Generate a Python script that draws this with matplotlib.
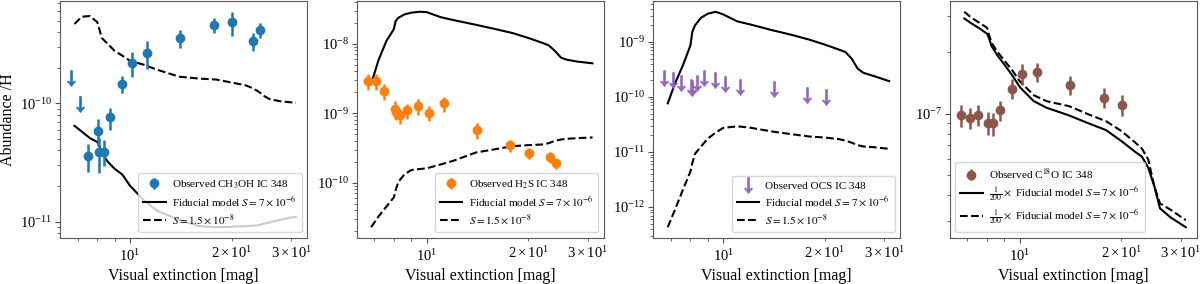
import matplotlib.pyplot as plt
import numpy as np

plt.rcParams['font.family'] = ['Liberation Serif', 'DejaVu Serif']
plt.rcParams['mathtext.fontset'] = 'stix'

# observed positions (visual extinction) shared by all species
av_obs = np.array([6.7, 7.1, 7.5, 8.05, 8.1, 8.35, 8.75, 9.45, 10.15, 11.25,
                   14.1, 17.7, 20.1, 23.2, 24.2])
# model grid
av_model = np.array([6.85, 7.2, 7.6, 8.0, 8.1, 8.25, 8.6, 9.0, 9.5, 10, 11, 12,
                     14, 16, 18, 20, 22, 23, 24, 25, 26, 28, 31])

# CH3OH
ch3oh_lim_idx = [0, 1]
ch3oh_lim = [1.64e-10, 0.98e-10]
ch3oh_idx = list(range(2, 15))
ch3oh = [3.57e-11, 5.86e-11, 3.86e-11, 3.91e-11, 7.59e-11, 1.46e-10, 2.19e-10,
         2.66e-10, 3.57e-10, 4.57e-10, 4.84e-10, 3.36e-10, 4.19e-10]
ch3oh_err = [0.27, 0.25, 0.33, 0.24, 0.21, 0.16, 0.24, 0.27, 0.17, 0.145, 0.23, 0.17, 0.15]
ch3oh_fid = [6.45e-11, 5.77e-11, 5.09e-11, 4.71e-11, 4.45e-11, 3.81e-11, 3.2e-11, 2.8e-11,
             2.49e-11, 2.01e-11, 1.51e-11, 1.24e-11, 1.03e-11, 9.14e-12, 8.95e-12, 9.04e-12,
             9.14e-12, 9.2e-12, 9.3e-12, 9.6e-12, 9.87e-12, 1.04e-11, 1.10e-11]
ch3oh_low = [4.69e-10, 5.41e-10, 5.47e-10, 4.87e-10, 4.33e-10, 3.57e-10, 3.18e-10, 2.78e-10,
             2.53e-10, 2.29e-10, 2.12e-10, 1.93e-10, 1.68e-10, 1.62e-10, 1.59e-10, 1.50e-10,
             1.42e-10, 1.35e-10, 1.26e-10, 1.15e-10, 1.08e-10, 1.04e-10, 1.01e-10]

# H2S
h2s = [2.88e-9, 2.88e-9, 2.11e-9, 1.15e-9, 1.05e-9, 9.35e-10, 1.10e-9, 1.26e-9, 1.02e-9,
       1.38e-9, 5.70e-10, 3.47e-10, 2.64e-10, 2.36e-10, 1.90e-10]
h2s_err = [0.26, 0.26, 0.26, 0.29, 0.25, 0.25, 0.25, 0.25, 0.25, 0.25, 0.25, 0.2, 0.18, 0.18, 0.17]
h2s_fid = [2.6e-9, 5.76e-9, 1.09e-8, 1.62e-8, 2.12e-8, 2.36e-8, 2.64e-8, 2.79e-8, 2.88e-8,
           2.85e-8, 2.41e-8, 2.19e-8, 1.87e-8, 1.62e-8, 1.42e-8, 1.21e-8, 1.03e-8, 9.46e-9,
           7.85e-9, 6.3e-9, 5.89e-9, 5.52e-9, 5.22e-9]
h2s_low = [2.29e-11, 3.25e-11, 4.53e-11, 6.15e-11, 7.85e-11, 1.03e-10, 1.32e-10, 1.52e-10,
           1.57e-10, 1.61e-10, 1.83e-10, 2.07e-10, 2.72e-10, 3.04e-10, 3.36e-10, 3.47e-10,
           3.55e-10, 3.71e-10, 4.01e-10, 4.19e-10, 4.28e-10, 4.38e-10, 4.48e-10]

# OCS (upper limits only)
ocs_idx = list(range(0, 13))
ocs_lim = [2.17e-10, 2.02e-10, 1.76e-10, 1.49e-10, 1.43e-10, 1.76e-10, 2.17e-10, 2.02e-10,
           1.69e-10, 1.49e-10, 1.39e-10, 1.08e-10, 1.01e-10]
ocs_fid = [7.64e-11, 1.76e-10, 3.78e-10, 8.7e-10, 1.52e-9, 2.0e-9, 2.76e-9, 3.26e-9, 3.54e-9,
           3.17e-9, 2.37e-9, 2.09e-9, 1.63e-9, 1.34e-9, 1.10e-9, 8.95e-10, 7.27e-10, 6.59e-10,
           4.99e-10, 3.29e-10, 2.75e-10, 2.39e-10, 1.94e-10]
ocs_low = [4.29e-13, 8.96e-13, 2.06e-12, 4.43e-12, 6.27e-12, 9.25e-12, 1.26e-11, 1.75e-11,
           2.25e-11, 2.74e-11, 2.93e-11, 2.77e-11, 2.35e-11, 2.10e-11, 1.91e-11, 1.83e-11,
           1.71e-11, 1.61e-11, 1.48e-11, 1.33e-11, 1.26e-11, 1.22e-11, 1.14e-11]

# C18O
c18o_idx = [0, 1, 2, 3, 5, 6, 7, 8, 9, 10, 11, 12]
c18o = [0.984e-7, 0.956e-7, 0.989e-7, 0.904e-7, 0.897e-7, 1.041e-7, 1.328e-7, 1.567e-7,
        1.596e-7, 1.379e-7, 1.197e-7, 1.106e-7]
c18o_err = [0.12, 0.12, 0.12, 0.125, 0.13, 0.115, 0.115, 0.115, 0.105, 0.105, 0.11, 0.115]
c18o_fid = [2.92e-7, 2.76e-7, 2.61e-7, 2.46e-7, 2.35e-7, 2.14e-7, 1.92e-7, 1.74e-7, 1.54e-7,
            1.35e-7, 1.152e-7, 1.07e-7, 0.981e-7, 0.897e-7, 0.832e-7, 0.735e-7, 0.65e-7,
            0.617e-7, 0.545e-7, 0.444e-7, 0.345e-7, 0.311e-7, 0.279e-7]
c18o_fid2 = [3.15e-7, 2.94e-7, 2.78e-7, 2.63e-7, 2.44e-7, 2.22e-7, 2.0e-7, 1.82e-7, 1.63e-7,
             1.44e-7, 1.232e-7, 1.152e-7, 1.089e-7, 0.992e-7, 0.92e-7, 0.823e-7, 0.722e-7,
             0.675e-7, 0.598e-7, 0.444e-7, 0.365e-7, 0.339e-7, 0.302e-7]

lab_fid = r'Fiducial model $S=7\times10^{-6}$'
lab_low = r'$S=1.5\times10^{-8}$'
lab_c18o = r'$\frac{1}{200}\times$ Fiducial model $S=7\times10^{-6}$'


def observed(ax, idx, vals, frac, color, label):
    x = av_obs[idx]
    v = np.array(vals)
    return ax.errorbar(x, v, yerr=v * np.array(frac), fmt='o', color=color, ms=6,
                       elinewidth=1.8, capsize=0, label=label)


def limits(ax, idx, vals, color, label=None):
    return ax.plot(av_obs[idx], vals, ls='none', marker=r'$\downarrow$', ms=11,
                   color=color, label=label)[0]


def models(ax, fid, low, lab1=lab_fid, lab2=lab_low):
    l1, = ax.plot(av_model, fid, color='k', lw=1.5, label=lab1)
    l2, = ax.plot(av_model, low, color='k', lw=1.5, ls='--', label=lab2)
    return l1, l2


def add_legend(ax, handles, labels, loc):
    ax.legend(handles, labels, loc=loc, fontsize=8, labelspacing=0.35,
              borderpad=0.45, handletextpad=0.6)


fig, axes = plt.subplots(1, 4, figsize=(12, 2.84), dpi=100)
fig.subplots_adjust(left=0.05, right=0.9975, bottom=0.162, top=0.9965, wspace=0.2)

ax = axes[0]
l1, l2 = models(ax, ch3oh_fid, ch3oh_low)
limits(ax, ch3oh_lim_idx, ch3oh_lim, 'C0')
e = observed(ax, ch3oh_idx, ch3oh, ch3oh_err, 'C0', r'Observed CH$_3$OH IC 348')
add_legend(ax, [e, l1, l2], [e.get_label(), lab_fid, lab_low], 'lower right')
ax.set_ylabel('Abundance /H', fontsize=11.5, labelpad=3)

ax = axes[1]
l1, l2 = models(ax, h2s_fid, h2s_low)
e = observed(ax, list(range(15)), h2s, h2s_err, 'C1', r'Observed H$_2$S IC 348')
add_legend(ax, [e, l1, l2], [e.get_label(), lab_fid, lab_low], 'lower right')

ax = axes[2]
l1, l2 = models(ax, ocs_fid, ocs_low)
a = limits(ax, ocs_idx, ocs_lim, 'C4', 'Observed OCS IC 348')
add_legend(ax, [a, l1, l2], [a.get_label(), lab_fid, lab_low], 'lower right')

ax = axes[3]
l1, l2 = models(ax, c18o_fid, c18o_fid2, lab_c18o, lab_c18o)
e = observed(ax, c18o_idx, c18o, c18o_err, 'C5', r'Observed C$^{18}$O IC 348')
add_legend(ax, [e, l1, l2], [e.get_label(), lab_c18o, lab_c18o], 'lower left')

for ax in axes:
    ax.set_xscale('log')
    ax.set_yscale('log')
    ax.set_xlabel('Visual extinction [mag]', fontsize=11.5, labelpad=3)
    ax.tick_params(which='both', labelsize=10.5, color='0.3')
    ax.tick_params(axis='y', which='both', pad=2)
    for s in ax.spines.values():
        s.set_color('0.35')

fig.savefig('out.png', dpi=100)
